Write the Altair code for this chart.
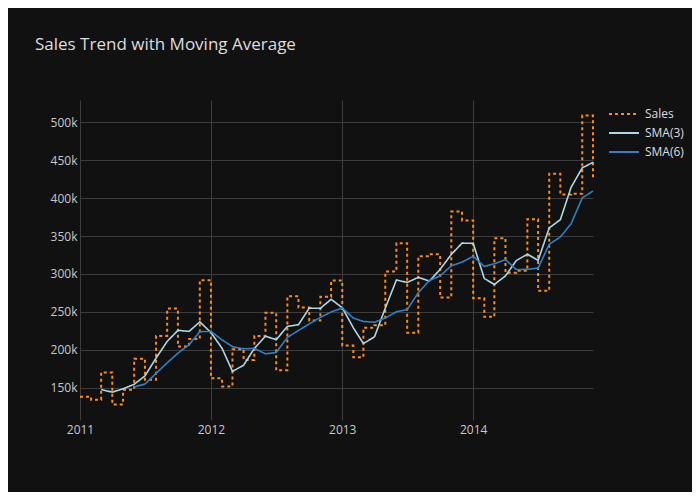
import altair as alt
import pandas as pd

months = pd.date_range("2011-01-01", "2014-12-01", freq="MS").strftime("%Y-%m-%d").tolist()
sales = [138100, 134200, 170200, 128000, 147400, 188300, 160600, 218300, 254300, 204200, 214300, 291800,
         162300, 151700, 200600, 186600, 218300, 248700, 173000, 270600, 255700, 238500, 269800, 291300,
         205500, 190000, 229200, 232300, 303200, 340600, 222600, 323400, 326000, 268900, 382400, 370600,
         268000, 243400, 347200, 301500, 304100, 372300, 277700, 432200, 404900, 405800, 508800, 427000]
series_names = ["Sales", "SMA(3)", "SMA(6)"]
series_colors = ["#ff8c1a", "#add8e6", "#2f80c8"]
series_dash = [[3, 3], [1, 0], [1, 0]]

df = pd.DataFrame({"date": months, "sales": sales})

xdom = [alt.DateTime(year=2011, month=1, date=1, utc=True),
        alt.DateTime(year=2014, month=12, date=1, utc=True)]

x_enc = alt.X("date:T", scale=alt.Scale(type="utc", domain=xdom),
              axis=alt.Axis(title=None, format="%Y", tickCount={"interval": "year", "step": 1},
                            grid=True, ticks=False, domain=False, labelPadding=4,
                            labelFlush=False, labelOverlap=False))
y_scale = alt.Scale(domain=[107400, 529400], nice=False, zero=False)
y_axis = alt.Axis(title=None, format="~s", values=[150000, 200000, 250000, 300000, 350000, 400000, 450000, 500000],
                  grid=True, ticks=False, domain=False, labelPadding=3)

color_scale = alt.Scale(domain=series_names, range=series_colors)
dash_scale = alt.Scale(domain=series_names, range=series_dash)
legend = alt.Legend(title=None, orient="none", legendX=528, legendY=6, symbolType="stroke",
                    symbolSize=900, symbolStrokeWidth=2, labelFontSize=12, labelColor="#dddddd",
                    labelFont="Open Sans", rowPadding=3, clipHeight=16, padding=0, labelOffset=5)

color_enc = alt.Color("series:N", scale=color_scale, legend=legend)
dash_enc = alt.StrokeDash("series:N", scale=dash_scale, legend=legend)

base = alt.Chart(df)

sales_line = base.transform_calculate(series="'Sales'").mark_line(
    interpolate="step-after", strokeWidth=2).encode(
    x=x_enc,
    y=alt.Y("sales:Q", scale=y_scale, axis=y_axis),
    color=color_enc,
    strokeDash=dash_enc,
)

sma3 = base.transform_window(
    sma="mean(sales)", n="count()", frame=[-2, 0]
).transform_filter("datum.n == 3").transform_calculate(series="'SMA(3)'").mark_line(
    strokeWidth=1.6).encode(
    x="date:T",
    y=alt.Y("sma:Q"),
    color=color_enc,
    strokeDash=dash_enc,
)

sma6 = base.transform_window(
    sma="mean(sales)", n="count()", frame=[-5, 0]
).transform_filter("datum.n == 6").transform_calculate(series="'SMA(6)'").mark_line(
    strokeWidth=1.6).encode(
    x="date:T",
    y=alt.Y("sma:Q"),
    color=color_enc,
    strokeDash=dash_enc,
)

chart = alt.layer(sales_line, sma3, sma6).properties(
    width=513, height=320,
    title=alt.TitleParams("Sales Trend with Moving Average", anchor="start", frame="group",
                          fontSize=17, fontWeight="normal", font="Open Sans", color="#dddddd",
                          dx=-45, offset=46),
    autosize=alt.AutoSizeParams(type="none"),
    padding={"left": 72, "top": 92, "right": 99, "bottom": 72},
    background="#111111",
).configure_view(stroke=None, fill="#111111").configure_axis(
    gridColor="#3d3d3d", gridWidth=1, labelColor="#c8c8c8", labelFont="Open Sans", labelFontSize=12,
)

chart.save("out.html", embed_options={"renderer": "svg", "actions": False})
